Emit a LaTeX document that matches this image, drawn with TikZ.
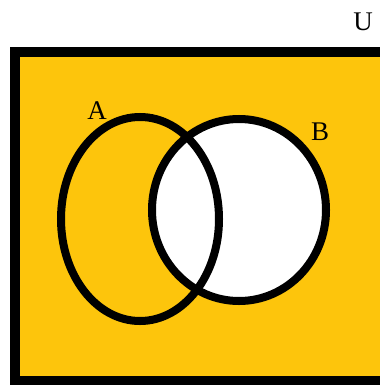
\documentclass[tikz,border=0pt]{standalone}
\usepackage{fontspec}
\setmainfont{Liberation Serif}
\usetikzlibrary{shapes.geometric}
\definecolor{venngold}{RGB}{253,197,12}
\begin{document}
\begin{tikzpicture}[x=0.03cm, y=-0.03cm]
\useasboundingbox (0,0) rectangle (379,385);
\fill[venngold] (15,51.5) rectangle (386,381);

\node[draw, ellipse, line width=0.24cm, fill=white, inner sep=0pt, minimum width=5.22cm, minimum height=5.46cm] (setB) at (239,210) {};
\node[draw, ellipse, line width=0.24cm, inner sep=0pt, minimum width=4.74cm, minimum height=6.12cm] (setA) at (140,219) {};

\draw[line width=0.3cm] (15,51.5) rectangle (386,381);

\node[font=\fontsize{23}{27}\selectfont] (lbU) at (363,22) {U};
\node[font=\fontsize{23}{27}\selectfont] (lbA) at (97,111) {A};
\node[font=\fontsize{23}{27}\selectfont] (lbB) at (320,132) {B};
\end{tikzpicture}
\end{document}
